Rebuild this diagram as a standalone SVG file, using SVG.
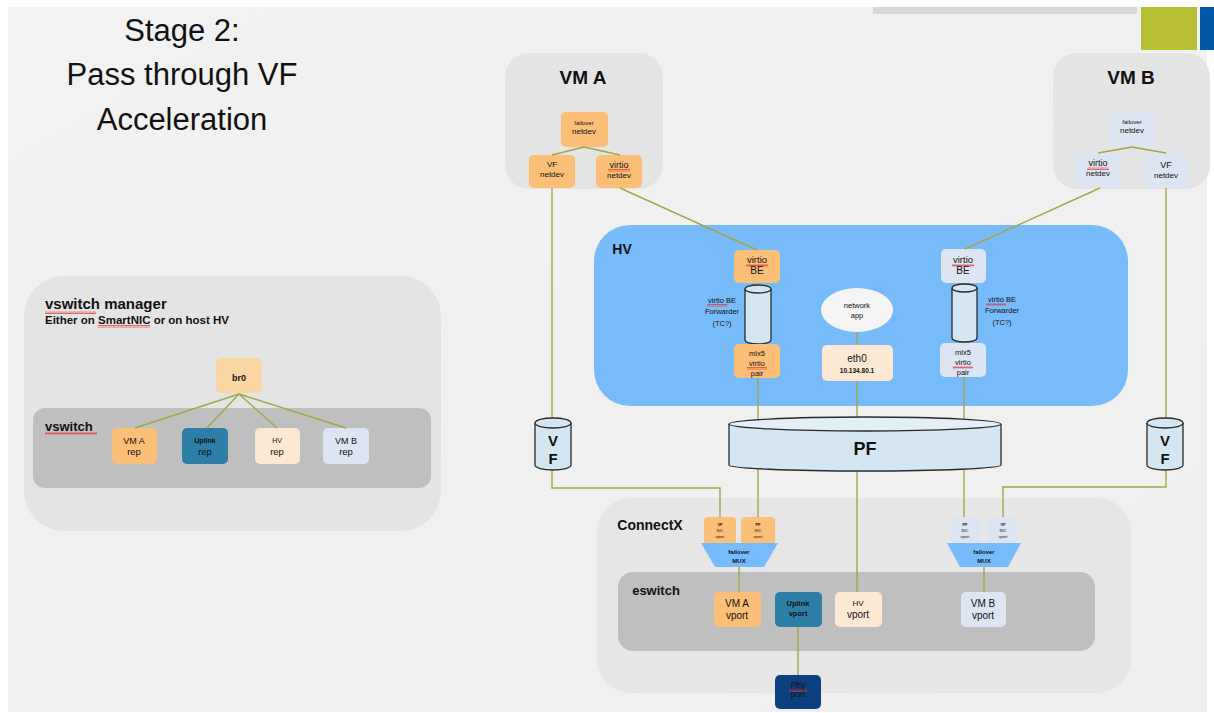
<svg xmlns="http://www.w3.org/2000/svg" width="1214" height="713" viewBox="0 0 1214 713">
<defs>
<pattern id="sq" width="4" height="3" patternUnits="userSpaceOnUse"><path d="M0,2.5 L1,0.5 L2,2.5 L3,0.5 L4,2.5" fill="none" stroke="#e03030" stroke-width="0.7"/></pattern>
<linearGradient id="bg" x1="0" y1="0" x2="1" y2="1"><stop offset="0" stop-color="#f2f2f2"/><stop offset="1" stop-color="#efefef"/></linearGradient>
</defs>
<style>
text{font-family:"Liberation Sans",Arial,sans-serif;fill:#111;text-anchor:middle}
.b{font-weight:bold}
.or{fill:#fbbf77}
.lo{fill:#fcd5a5}
.cr{fill:#fde9d3}
.lb{fill:#dde5f3}
.up{fill:#2e7fa8}
.phy{fill:#0b3f7f}
.grp{fill:#e4e4e4}
.dk{fill:#bfbfbf}
.cyl{fill:#d4e6f2;stroke:#2a2a2a;stroke-width:1.3}
.ln{stroke:#a3a548;stroke-width:1.4;fill:none}
.sq{fill:url(#sq)}
</style>
<rect width="1214" height="713" fill="#ffffff"/>
<rect x="8" y="7" width="1199" height="705" fill="url(#bg)"/>
<rect x="873" y="7" width="264" height="7" fill="#d6d6d6"/>
<rect x="1141" y="7" width="56" height="43" fill="#b8bf35"/>
<rect x="1200" y="7" width="14" height="43" fill="#0057a8"/>

<g id="title">
<text x="182" y="41" style="font-size:31px" fill="#222">Stage 2:</text>
<text x="182" y="85" style="font-size:31px" fill="#222">Pass through VF</text>
<text x="182" y="130" style="font-size:31px" fill="#222">Acceleration</text>
</g>

<g id="vswitch-manager">
<rect x="24" y="276" width="417" height="255" rx="40" class="grp"/>
<text x="45" y="309" class="b" style="font-size:15px;text-anchor:start">vswitch manager</text>
<rect x="45" y="311" width="51" height="3" class="sq"/>
<text x="45" y="324" class="b" style="font-size:11.5px;text-anchor:start">Either on SmartNIC or on host HV</text>
<rect x="98" y="325" width="52" height="3" class="sq"/>
</g>
<g id="vswitch">
<rect x="33" y="408" width="398" height="80" rx="12" class="dk"/>
<text x="45" y="431" class="b" style="font-size:13px;text-anchor:start">vswitch</text>
<rect x="45" y="432" width="52" height="3" class="sq"/>
</g>
<g id="br0"><rect x="216" y="358" width="46" height="35" rx="5" class="lo"/><text x="239" y="381" class="b" style="font-size:9px">br0</text></g>
<g id="vma-rep"><rect x="112" y="428" width="45" height="36" rx="5" class="or"/><text x="134" y="444" style="font-size:9px">VM A</text><text x="134" y="455" style="font-size:9.5px">rep</text></g>
<g id="uplink-rep"><rect x="182" y="428" width="46" height="36" rx="5" class="up"/><text x="205" y="443" class="b" style="font-size:7px">Uplink</text><text x="205" y="455" style="font-size:9.5px">rep</text></g>
<g id="hv-rep"><rect x="255" y="428" width="45" height="36" rx="5" class="cr"/><text x="277" y="443" style="font-size:7px">HV</text><text x="277" y="455" style="font-size:9.5px">rep</text></g>
<g id="vmb-rep"><rect x="323" y="428" width="46" height="36" rx="5" class="lb"/><text x="346" y="444" style="font-size:9px">VM B</text><text x="346" y="455" style="font-size:9.5px">rep</text></g>

<g id="vm-a">
<rect x="505" y="53" width="158" height="136" rx="24" class="grp"/>
<text x="583" y="84" class="b" style="font-size:19px">VM A</text>
</g>
<g id="vma-failover"><rect x="561" y="112" width="47" height="35" rx="5" class="or"/><text x="584" y="125" style="font-size:6px">failover</text><text x="584" y="134" style="font-size:8px">netdev</text></g>
<g id="vma-vf"><rect x="529" y="155" width="46" height="33" rx="5" class="or"/><text x="552" y="167" style="font-size:8px">VF</text><text x="552" y="177" style="font-size:8px">netdev</text></g>
<g id="vma-virtio"><rect x="596" y="155" width="46" height="33" rx="5" class="or"/><text x="619" y="168" style="font-size:9px">virtio</text><rect x="608" y="169" width="22" height="3" class="sq"/><text x="619" y="178" style="font-size:8px">netdev</text></g>

<g id="vm-b">
<rect x="1053" y="53" width="157" height="136" rx="24" class="grp"/>
<text x="1131" y="84" class="b" style="font-size:19px">VM B</text>
</g>
<g id="vmb-failover"><rect x="1109" y="112" width="46" height="35" rx="5" class="lb"/><text x="1132" y="124" style="font-size:6px">failover</text><text x="1132" y="133" style="font-size:8px">netdev</text></g>
<g id="vmb-virtio"><rect x="1075" y="153" width="46" height="35" rx="5" class="lb"/><text x="1098" y="166" style="font-size:9px">virtio</text><rect x="1087" y="167" width="22" height="3" class="sq"/><text x="1098" y="176" style="font-size:8px">netdev</text></g>
<g id="vmb-vf"><rect x="1143" y="153" width="46" height="35" rx="5" class="lb"/><text x="1166" y="168" style="font-size:9px">VF</text><text x="1166" y="178" style="font-size:8px">netdev</text></g>

<g id="hv">
<rect x="594" y="225" width="534" height="181" rx="36" fill="#77bbfb"/>
<text x="622" y="254" class="b" style="font-size:14px">HV</text>
</g>
<g id="hv-virtio-be-a"><rect x="734" y="250" width="46" height="33" rx="5" class="or"/><text x="757" y="263" style="font-size:9.5px">virtio</text><rect x="746" y="264" width="22" height="3" class="sq"/><text x="757" y="274" style="font-size:10px">BE</text></g>
<g id="hv-fwd-a">
<path d="M745,289 L745,340 A13,4 0 0 0 771,340 L771,289" class="cyl"/>
<ellipse cx="758" cy="289" rx="13" ry="4" class="cyl"/>
<text x="722" y="303" style="font-size:7.5px">virtio BE</text><rect x="707" y="304" width="20" height="3" class="sq"/>
<text x="722" y="314" style="font-size:7.5px">Forwarder</text>
<text x="722" y="326" style="font-size:7.5px">(TC?)</text>
</g>
<g id="hv-mlx5-a"><rect x="734" y="344" width="46" height="34" rx="5" class="or"/><text x="757" y="356" style="font-size:7.5px">mlx5</text><text x="757" y="366" style="font-size:7.5px">virtio</text><rect x="747" y="367" width="20" height="3" class="sq"/><text x="757" y="376" style="font-size:7.5px">pair</text></g>
<g id="network-app"><ellipse cx="857" cy="310" rx="36" ry="22" fill="#f5f5f5"/><text x="857" y="308" style="font-size:7.5px">network</text><text x="857" y="318" style="font-size:7.5px">app</text></g>
<g id="eth0"><rect x="822" y="345" width="71" height="36" rx="5" class="cr"/><text x="857" y="362" style="font-size:10px">eth0</text><text x="857" y="373" class="b" style="font-size:6.5px">10.134.80.1</text></g>
<g id="hv-virtio-be-b"><rect x="941" y="249" width="45" height="34" rx="5" class="lb"/><text x="963" y="263" style="font-size:9.5px">virtio</text><rect x="952" y="264" width="22" height="3" class="sq"/><text x="963" y="274" style="font-size:10px">BE</text></g>
<g id="hv-fwd-b">
<path d="M952,288 L952,338 A12.5,4 0 0 0 977,338 L977,288" class="cyl"/>
<ellipse cx="964.5" cy="288" rx="12.5" ry="4" class="cyl"/>
<text x="1002" y="302" style="font-size:7.5px">virtio BE</text><rect x="986" y="303" width="20" height="3" class="sq"/>
<text x="1002" y="313" style="font-size:7.5px">Forwarder</text>
<text x="1002" y="325" style="font-size:7.5px">(TC?)</text>
</g>
<g id="hv-mlx5-b"><rect x="940" y="343" width="46" height="34" rx="5" class="lb"/><text x="963" y="355" style="font-size:7.5px">mlx5</text><text x="963" y="365" style="font-size:7.5px">virtio</text><rect x="953" y="366" width="20" height="3" class="sq"/><text x="963" y="375" style="font-size:7.5px">pair</text></g>

<g id="connectx">
<rect x="597" y="498" width="534" height="195" rx="34" fill="#e6e6e6"/>
<text x="650" y="530" class="b" style="font-size:14px">ConnectX</text>
</g>
<g id="eswitch">
<rect x="618" y="572" width="477" height="79" rx="15" class="dk"/>
<text x="656" y="595" class="b" style="font-size:13px">eswitch</text>
</g>

<g id="connectors">
<line x1="584" y1="147" x2="552" y2="155" class="ln"/>
<line x1="584" y1="147" x2="620" y2="155" class="ln"/>
<line x1="1132" y1="147" x2="1098" y2="153" class="ln"/>
<line x1="1132" y1="147" x2="1166" y2="153" class="ln"/>
<line x1="620" y1="188" x2="757" y2="250" class="ln"/>
<line x1="1100" y1="188" x2="965" y2="249" class="ln"/>
<line x1="552" y1="188" x2="552" y2="418" class="ln"/>
<polyline points="552,470 552,488 720,488 720,517" class="ln"/>
<line x1="1166" y1="188" x2="1166" y2="418" class="ln"/>
<polyline points="1166,470 1166,487 1003,487 1003,517" class="ln"/>
<line x1="758" y1="378" x2="758" y2="517" class="ln"/>
<line x1="857" y1="332" x2="857" y2="345" class="ln"/>
<line x1="857" y1="381" x2="857" y2="592" class="ln"/>
<line x1="964" y1="377" x2="964" y2="517" class="ln"/>
<line x1="739" y1="567" x2="739" y2="592" class="ln"/>
<line x1="984" y1="567" x2="984" y2="592" class="ln"/>
<line x1="798" y1="627" x2="798" y2="675" class="ln"/>
<line x1="239" y1="394" x2="135" y2="428" class="ln"/>
<line x1="239" y1="394" x2="207" y2="428" class="ln"/>
<line x1="239" y1="394" x2="277" y2="428" class="ln"/>
<line x1="239" y1="394" x2="346" y2="428" class="ln"/>
</g>

<g id="vf-a">
<path d="M535,423 L535,465 A18,5 0 0 0 571,465 L571,423" class="cyl"/>
<ellipse cx="553" cy="423" rx="18" ry="5" class="cyl"/>
<text x="553" y="446" class="b" style="font-size:15px">V</text>
<text x="553" y="464" class="b" style="font-size:15px">F</text>
</g>
<g id="vf-b">
<path d="M1147,423 L1147,465 A18,5 0 0 0 1183,465 L1183,423" class="cyl"/>
<ellipse cx="1165" cy="423" rx="18" ry="5" class="cyl"/>
<text x="1165" y="446" class="b" style="font-size:15px">V</text>
<text x="1165" y="464" class="b" style="font-size:15px">F</text>
</g>
<g id="pf">
<path d="M729,424 L729,465 A136,6 0 0 0 1001,465 L1001,424" class="cyl"/>
<ellipse cx="865" cy="424" rx="136" ry="7" class="cyl" style="fill:#e4f0f8"/>
<text x="865" y="455" class="b" style="font-size:18px">PF</text>
</g>

<g id="vf-nic-vport-a"><rect x="704" y="517" width="32" height="27" rx="4" class="or"/><text x="720" y="526" class="b" style="font-size:4px">VF</text><text x="720" y="532" style="font-size:4px">NIC</text><text x="720" y="538" style="font-size:4px">vport</text></g>
<g id="pf-nic-vport-a"><rect x="741" y="517" width="34" height="27" rx="4" class="or"/><text x="758" y="526" class="b" style="font-size:4px">PF</text><text x="758" y="532" style="font-size:4px">NIC</text><text x="758" y="538" style="font-size:4px">vport</text></g>
<g id="mux-a"><polygon points="701,543 778,543 764,567 715,567" fill="#76bcfd"/><text x="739" y="554" class="b" style="font-size:6px">failover</text><text x="739" y="563" class="b" style="font-size:6px">MUX</text></g>
<g id="pf-nic-vport-b"><rect x="950" y="517" width="31" height="26" rx="4" class="lb"/><text x="965" y="526" class="b" style="font-size:4px">PF</text><text x="965" y="532" style="font-size:4px">NIC</text><text x="965" y="538" style="font-size:4px">vport</text></g>
<g id="vf-nic-vport-b"><rect x="987" y="517" width="31" height="26" rx="4" class="lb"/><text x="1003" y="526" class="b" style="font-size:4px">VF</text><text x="1003" y="532" style="font-size:4px">NIC</text><text x="1003" y="538" style="font-size:4px">vport</text></g>
<g id="mux-b"><polygon points="947,543 1021,543 1008,567 960,567" fill="#76bcfd"/><text x="984" y="554" class="b" style="font-size:6px">failover</text><text x="984" y="563" class="b" style="font-size:6px">MUX</text></g>

<g id="vma-vport"><rect x="714" y="592" width="47" height="35" rx="5" class="or"/><text x="737" y="607" style="font-size:10px">VM A</text><text x="737" y="619" style="font-size:10px">vport</text></g>
<g id="uplink-vport"><rect x="775" y="592" width="47" height="35" rx="5" class="up"/><text x="798" y="606" class="b" style="font-size:7.5px">Uplink</text><text x="798" y="616" class="b" style="font-size:7.5px">vport</text></g>
<g id="hv-vport"><rect x="835" y="592" width="47" height="35" rx="5" class="cr"/><text x="858" y="606" style="font-size:8px">HV</text><text x="858" y="618" style="font-size:10px">vport</text></g>
<g id="vmb-vport"><rect x="961" y="592" width="45" height="35" rx="5" class="lb"/><text x="983" y="607" style="font-size:10px">VM B</text><text x="983" y="619" style="font-size:10px">vport</text></g>
<g id="phy-port"><rect x="775" y="675" width="46" height="34" rx="5" class="phy"/><text x="798" y="688" style="font-size:8.5px">Phy</text><rect x="789" y="689" width="18" height="3" class="sq"/><text x="798" y="697" style="font-size:8.5px">port</text></g>
</svg>
